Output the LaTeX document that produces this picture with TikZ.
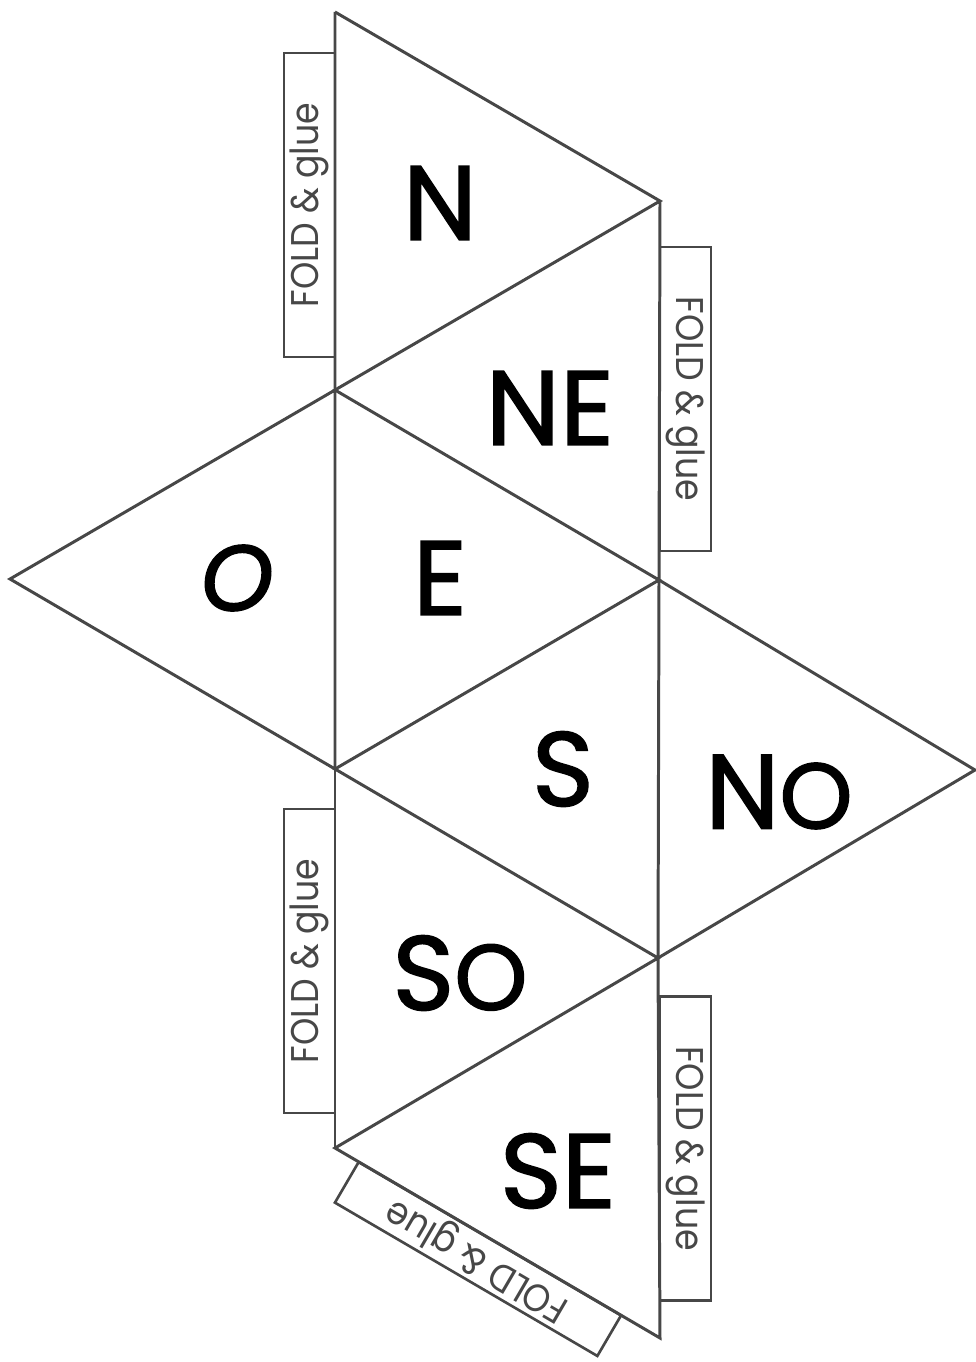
\documentclass[tikz,border=0pt]{standalone}
\usepackage{fontspec}
\setmainfont{Poppins}
\newfontfamily\letterfont[FakeBold=1.5]{Poppins}
\newfontfamily\tabfont[FakeStretch=0.9]{Poppins}
\usetikzlibrary{positioning,calc}
\colorlet{linegray}{black!72}
\newcommand{\foldtext}{\raisebox{-2.8pt}{FOLD \& glue}}
\newcommand{\smallO}{{\fontsize{53}{53}\selectfont O}}
\tikzset{
	edge/.style={draw=linegray, line width=1.7pt, line join=miter},
	letter/.style={inner sep=0pt, font=\fontsize{60}{60}\letterfont},
	tab/.style={draw=linegray, line width=1.5pt, minimum width=6.08cm, minimum height=1.02cm, inner sep=0pt, text=linegray, font=\fontsize{22}{22}\tabfont},
}

\begin{document}
\begin{tikzpicture}[x=0.02cm, y=-0.02cm]
		\useasboundingbox (0, 0) rectangle (976, 1362);
		\coordinate (T) at (335, 12);
		\coordinate (A) at (660, 201);
		\coordinate (B) at (335, 390);
		\coordinate (C) at (659, 580);
		\coordinate (D) at (335, 769);
		\coordinate (E) at (658, 958);
		\coordinate (F) at (335, 1148);
		\coordinate (G) at (660, 1338);
		\coordinate (L) at (10, 579);
		\coordinate (R) at (975, 770);

		\node[tab, rotate=90] (tabN) at (309.5, 205) {\foldtext};
		\node[tab, rotate=-90] (tabNE) at (685.5, 399) {\foldtext};
		\node[tab, rotate=90] (tabSO) at (309.5, 961) {\foldtext};
		\node[tab, rotate=-90] (tabSE) at (685.5, 1148.5) {\foldtext};
		\node[tab, rotate=149.7, minimum height=0.94cm] (tabB) at (478, 1259) {\foldtext};

		\draw[edge] (T) -- (A) -- (B) -- (C) -- (D) -- (E) -- (F) -- (G) -- (E) -- (C) -- (A);
		\draw[edge] (T) -- (B) -- (L) -- (D) -- (B);
		\draw[edge] (D) -- (F);
		\draw[edge] (C) -- (R) -- (E);

		\node[letter] (n) at (440, 203) {N};
		\node[letter] (ne) at (550, 408) {NE};
		\node[letter] (o) at (237, 578) {\itshape\smallO};
		\node[letter] (e) at (440, 578) {E};
		\node[letter] (s) at (563, 769) {S};
		\node[letter] (no) at (779, 792) {N\smallO};
		\node[letter] (so) at (460, 973) {S\smallO};
		\node[letter] (se) at (558, 1171) {SE};
	\end{tikzpicture}
\end{document}
